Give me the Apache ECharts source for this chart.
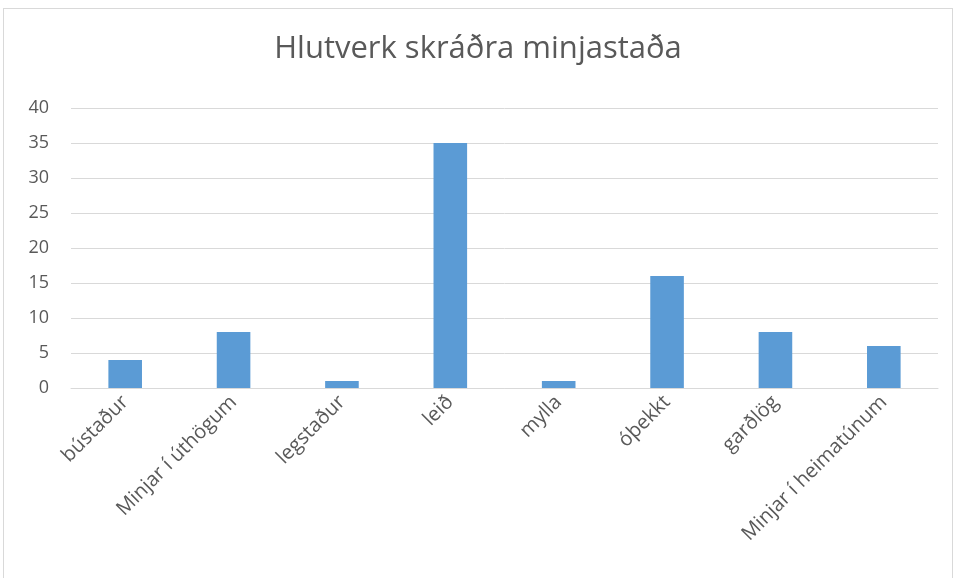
<!DOCTYPE html>
<html>
<head>
<meta charset="utf-8">
<script src="https://cdn.jsdelivr.net/npm/echarts@6/dist/echarts.min.js"></script>
<style>
  html, body { margin: 0; padding: 0; background: #fff; }
  #frame { position: absolute; left: 3px; top: 8px; width: 950px; height: 572px; border: 1px solid #d9d9d9; box-sizing: border-box; }
  #chart { position: absolute; left: 0; top: 0; width: 956px; height: 578px; }
</style>
</head>
<body>
<div id="frame"></div>
<div id="chart"></div>
<script>
// flokkar og gildi
var categories = ['bústaður', 'Minjar í úthögum', 'legstaður', 'leið', 'mylla', 'óþekkt', 'garðlög', 'Minjar í heimatúnum'];
var counts = [4, 8, 1, 35, 1, 16, 8, 6];
var yTicks = [0, 5, 10, 15, 20, 25, 30, 35, 40];

var font = "'Open Sans', 'Noto Sans', sans-serif";
var myChart = echarts.init(document.getElementById('chart'));
myChart.setOption({
    animation: false,
    title: {
        text: 'Hlutverk skráðra minjastaða',
        left: 'center',
        top: 29,
        textStyle: { fontFamily: font, fontSize: 31, fontWeight: 'normal', color: '#595959' }
    },
    grid: { left: 71, right: 18, top: 108, bottom: 190 },
    xAxis: {
        type: 'category',
        data: categories,
        axisLine: { lineStyle: { color: '#d9d9d9' } },
        axisTick: { show: false },
        axisLabel: {
            interval: 0, rotate: 45, margin: 11,
            fontFamily: font, fontSize: 20, color: '#595959'
        }
    },
    yAxis: {
        type: 'value',
        min: yTicks[0],
        max: yTicks[yTicks.length - 1],
        interval: 5,
        axisLine: { show: false },
        axisTick: { show: false },
        axisLabel: { margin: 22, fontFamily: font, fontSize: 18, color: '#595959' },
        splitLine: { lineStyle: { color: '#d9d9d9' } }
    },
    series: [{
        type: 'bar',
        data: counts,
        barWidth: '31%',
        itemStyle: { color: '#5b9bd5' }
    }]
});
</script>
</body>
</html>
